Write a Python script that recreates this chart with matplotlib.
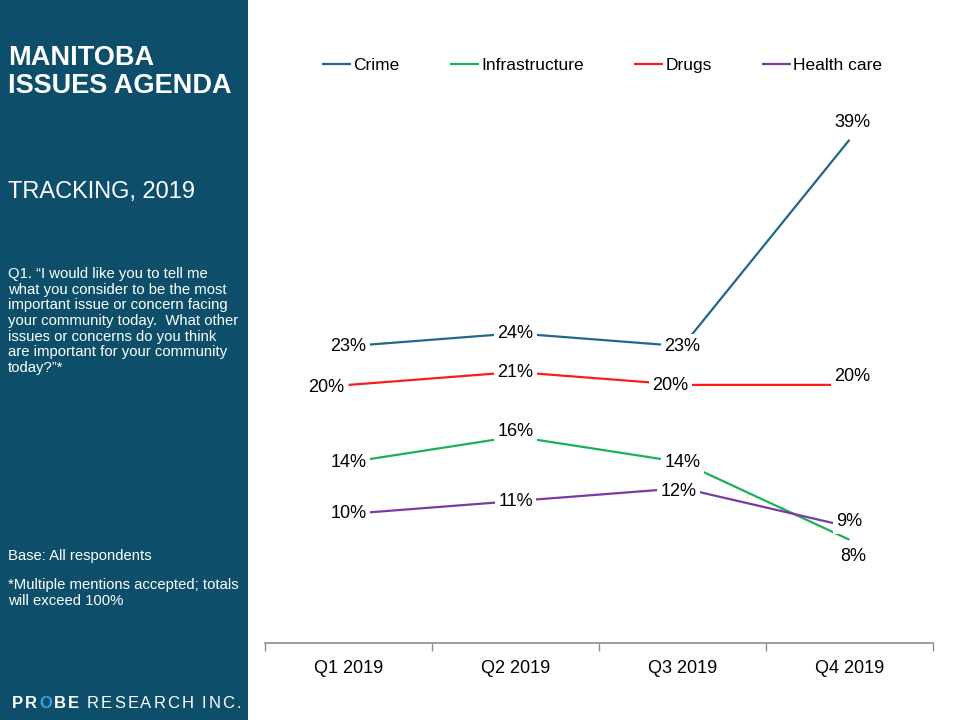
import matplotlib
matplotlib.use("Agg")
import matplotlib.pyplot as plt
from matplotlib.patches import Rectangle

plt.rcParams["font.family"] = ["Liberation Sans", "DejaVu Sans"]

# ==============================
# data
# ==============================
quarters = ["Q1 2019", "Q2 2019", "Q3 2019", "Q4 2019"]
crime = [23, 24, 23, 39]
infrastructure = [14, 16, 14, 8]
drugs = [20, 21, 20, 20]
health_care = [10, 11, 12, 9]

series_names = ["Crime", "Infrastructure", "Drugs", "Health care"]
series_vals = [crime, infrastructure, drugs, health_care]
series_colors = ["#22668A", "#1BB05A", "#FF1A1A", "#7B3AA0"]

# label nudges (pixels) per series / quarter
label_nudge = {
    ("Crime", 3): (3, 17),
    ("Drugs", 0): (-22, -3),
    ("Drugs", 2): (-12, -1),
    ("Drugs", 3): (3, 8),
    ("Infrastructure", 1): (0, 5),
    ("Infrastructure", 3): (4, -17),
    ("Health care", 2): (-4, -3),
    ("Health care", 3): (0, 5),
}

PANEL = "#0D4F6B"

fig = plt.figure(figsize=(9.6, 7.2), dpi=100)

# ==============================
# left panel
# ==============================
fig.patches.append(Rectangle((0, 0), 248 / 960, 1, transform=fig.transFigure,
                             facecolor=PANEL, edgecolor="none", zorder=0))

fig.text(8 / 960, 1 - 45 / 720, "MANITOBA\nISSUES AGENDA", color="white",
         fontsize=19.5, fontweight="bold", va="top", ha="left", linespacing=1.08)
fig.text(8 / 960, 1 - 181 / 720, "TRACKING, 2019", color="white",
         fontsize=17, va="top", ha="left")
q_text = ("Q1. \u201cI would like you to tell me\n"
          "what you consider to be the most\n"
          "important issue or concern facing\n"
          "your community today.  What other\n"
          "issues or concerns do you think\n"
          "are important for your community\n"
          "today?\u201d*")
fig.text(8 / 960, 1 - 267 / 720, q_text, color="white", fontsize=10.7,
         va="top", ha="left", linespacing=1.15)
fig.text(8 / 960, 1 - 549 / 720, "Base: All respondents", color="white",
         fontsize=10.7, va="top", ha="left")
fig.text(8 / 960, 1 - 578 / 720, "*Multiple mentions accepted; totals\nwill exceed 100%",
         color="white", fontsize=10.7, va="top", ha="left", linespacing=1.15)

# logo, letter by letter
renderer = fig.canvas.get_renderer()
logo = [(ch, "bold", "white") for ch in "PR"] + [("O", "bold", "#3AA0E0")] + \
       [(ch, "bold", "white") for ch in "BE"] + [(" ", "normal", "white")] + \
       [(ch, "normal", "white") for ch in "RESEARCH INC."]
xpx = 12
for ch, wt, col in logo:
    t = fig.text(xpx / 960, 1 - 704 / 720, ch, color=col, fontsize=12,
                 fontweight=wt, va="center", ha="left")
    w = t.get_window_extent(renderer).width if ch != " " else 4
    xpx += w + 2.0

# ==============================
# chart
# ==============================
ax = fig.add_axes([265 / 960, 1 - 643 / 720, 668 / 960, 542 / 720])
x = list(range(len(quarters)))
for name, vals, col in zip(series_names, series_vals, series_colors):
    ax.plot(x, vals, color=col, lw=1.6, label=name, zorder=2, solid_capstyle="butt")
    for i, v in enumerate(vals):
        dx, dy = label_nudge.get((name, i), (0, 0))
        ax.annotate(f"{v}%", (i, v), xytext=(dx * 0.72, dy * 0.72),
                    textcoords="offset points", ha="center", va="center",
                    fontsize=13, color="black", zorder=4,
                    bbox=dict(boxstyle="square,pad=0.18", facecolor="white",
                              edgecolor="none"))

ax.set_xlim(-0.5, len(quarters) - 0.5)
ax.set_ylim(0, 42)
ax.set_yticks([])
for s in ["left", "right", "top"]:
    ax.spines[s].set_visible(False)
ax.spines["bottom"].set_color("#8C8C8C")
ax.spines["bottom"].set_linewidth(1.2)
ax.set_xticks(x)
ax.set_xticklabels(quarters, fontsize=13)
ax.tick_params(axis="x", which="major", length=0, pad=12)
ax.set_xticks([i - 0.5 for i in range(len(quarters) + 1)], minor=True)
ax.tick_params(axis="x", which="minor", length=6, color="#8C8C8C", width=1)

fig.legend(loc="center", bbox_to_anchor=(602 / 960, 1 - 65 / 720), ncol=4,
           frameon=False, fontsize=12.5, handlelength=1.7, handletextpad=0.1,
           columnspacing=2.9)

fig.savefig("out.png", dpi=100, facecolor="white")
